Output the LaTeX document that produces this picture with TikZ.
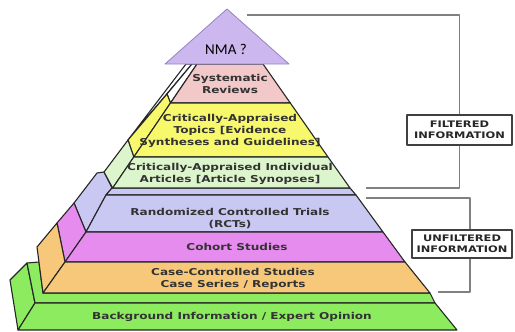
\documentclass[tikz,border=0pt]{standalone}
\usepackage{fontspec}
\newfontfamily\layerfont[FakeStretch=1.27]{DejaVu Sans Bold}
\newfontfamily\nmafont{Carlito}
\definecolor{nmafill}{RGB}{204,184,238}
\definecolor{nmaline}{RGB}{150,130,195}
\definecolor{pinklayer}{RGB}{242,200,200}
\definecolor{yellowlayer}{RGB}{248,248,108}
\definecolor{lgreenlayer}{RGB}{221,245,205}
\definecolor{lavlayer}{RGB}{200,200,242}
\definecolor{maglayer}{RGB}{230,140,238}
\definecolor{orangelayer}{RGB}{248,200,122}
\definecolor{greenlayer}{RGB}{140,235,94}

\begin{document}
\begin{tikzpicture}[x=1pt, y=-1pt, line join=round,
  face/.style={draw=black!85, line width=1.1pt},
  lbl/.style={font=\layerfont\fontsize{9.5}{12}\selectfont, align=center, text=black!80, inner sep=0pt},
  bracket/.style={draw=black!50, line width=1.4pt},
  infobox/.style={draw=black!75, line width=1.5pt, fill=white, align=center, inner sep=0pt,
    font=\layerfont\fontsize{9}{11.5}\selectfont, text=black!85}]
\useasboundingbox (0,0) rectangle (515,332);

% bottom slab
\draw[face, fill=greenlayer] (10,280) -- (27,263) -- (35,303) -- (18,330) -- cycle;
\draw[face, fill=greenlayer] (27,263) -- (39,262) -- (43,293) -- (430,293) -- (435,303) -- (35,303) -- cycle;
\draw[face, fill=greenlayer] (35,303) -- (435,303) -- (457,330) -- (18,330) -- cycle;

% unfiltered slabs
\draw[face, fill=lavlayer] (97,173) -- (104,172) -- (112,188) -- (106,195) -- (86,232) -- (74,203) -- cycle;
\draw[face, fill=lavlayer] (112,188) -- (350,188) -- (356,195) -- (106,195) -- cycle;
\draw[face, fill=lavlayer] (106,195) -- (356,195) -- (383,232) -- (86,232) -- cycle;
\draw[face, fill=maglayer] (74,203) -- (86,232) -- (65,262) -- (57,223) -- cycle;
\draw[face, fill=maglayer] (86,232) -- (383,232) -- (405,262) -- (65,262) -- cycle;
\draw[face, fill=orangelayer] (57,223) -- (65,262) -- (43,293) -- (37,247) -- cycle;
\draw[face, fill=orangelayer] (65,262) -- (405,262) -- (430,293) -- (43,293) -- cycle;

% filtered slabs
\draw[face, fill=white] (186,64) -- (192,64) -- (128,140) -- cycle;
\draw[face, fill=white] (192,64) -- (197,64) -- (170.5,103) -- (167,94) -- cycle;
\draw[face, fill=yellowlayer] (167,94) -- (170.5,103) -- (133.8,157) -- (128,140) -- cycle;
\draw[face, fill=lgreenlayer] (128,140) -- (133.8,157) -- (112.7,188) -- (104,172) -- cycle;
\draw[face, fill=pinklayer] (197,64) -- (263,64) -- (290.3,103) -- (170.5,103) -- cycle;
\draw[face, fill=yellowlayer] (170.5,103) -- (290.3,103) -- (328,157) -- (133.8,157) -- cycle;
\draw[face, fill=lgreenlayer] (133.8,157) -- (328,157) -- (350,188) -- (112.7,188) -- cycle;

% top
\draw[draw=nmaline, line width=0.8pt, fill=nmafill] (227,9) -- (289,64) -- (165,64) -- cycle;
\node[font=\nmafont\fontsize{15}{15}\selectfont, inner sep=0pt] (nma) at (226,49) {NMA ?};

\node[lbl] (sysrev) at (230,84) {Systematic\\Reviews};
\node[lbl] (topics) at (230,130.5) {Critically-Appraised\\Topics [Evidence\\Syntheses and Guidelines]};
\node[lbl] (articles) at (230,173.5) {Critically-Appraised Individual\\Articles [Article Synopses]};
\node[lbl] (rct) at (230,218.5) {Randomized Controlled Trials\\(RCTs)};
\node[lbl] (cohort) at (237,247) {Cohort Studies};
\node[lbl] (casectrl) at (233,279) {Case-Controlled Studies\\Case Series / Reports};
\node[lbl] (background) at (232,317) {Background Information / Expert Opinion};

\node[infobox, minimum width=105pt, minimum height=30pt] (filtered) at (459.5,130) {FILTERED\\INFORMATION};
\node[infobox, minimum width=100pt, minimum height=28pt] (unfiltered) at (462,244) {UNFILTERED\\INFORMATION};

\coordinate (fstart) at (247,15);
\coordinate (fcorner1) at (459.5,15);
\coordinate (fcorner2) at (459.5,188);
\coordinate (fend) at (366,188);
\coordinate (ustart) at (366,198);
\coordinate (ucorner1) at (470,198);
\coordinate (ucorner2) at (470,292);
\coordinate (uend) at (438,292);
\draw[bracket] (fstart) -- (fcorner1) -- (filtered.north);
\draw[bracket] (filtered.south) -- (fcorner2) -- (fend);
\draw[bracket] (ustart) -- (ucorner1) -- (ucorner1 |- unfiltered.north);
\draw[bracket] (ucorner2 |- unfiltered.south) -- (ucorner2) -- (uend);
\end{tikzpicture}
\end{document}
